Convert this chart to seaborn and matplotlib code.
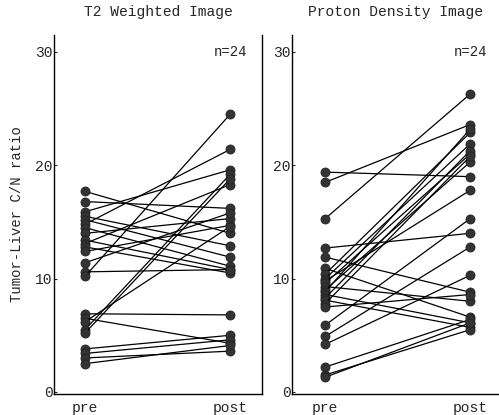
import matplotlib
matplotlib.use("Agg")
import matplotlib.pyplot as plt
import seaborn as sns
import pandas as pd

# ---- data ----
panel_titles = ["T2 Weighted Image", "Proton Density Image"]
time_labels = ["pre", "post"]
n_label = "n=24"
y_label = "Tumor-Liver C/N ratio"
y_ticks = [0, 10, 20, 30]

t2_pre = [17.7, 16.8, 15.9, 15.5, 15.2, 14.8, 14.5, 14.0, 13.4, 13.1, 12.8, 12.4,
          11.4, 10.6, 10.2, 6.9, 6.5, 6.2, 5.5, 5.2, 3.8, 3.4, 3.0, 2.5]
t2_post = [14.0, 16.2, 19.6, 12.9, 11.9, 21.4, 11.1, 15.3, 10.8, 18.3, 10.5, 14.7,
           15.8, 10.8, 24.5, 6.8, 4.3, 14.6, 19.2, 18.8, 5.0, 4.6, 3.6, 4.1]

pd_pre = [19.4, 18.5, 15.3, 12.7, 11.9, 10.9, 10.4, 10.0, 9.8, 9.6, 9.3, 9.0,
          8.85, 8.6, 8.3, 8.1, 7.8, 7.5, 5.9, 4.9, 4.2, 2.2, 1.5, 1.3]
pd_post = [19.0, 23.6, 26.3, 14.0, 8.8, 6.6, 22.9, 21.9, 17.8, 21.0, 8.0, 20.3,
           23.2, 6.1, 21.3, 5.7, 20.8, 8.6, 15.3, 12.8, 10.3, 6.4, 5.5, 6.1]


def to_long(pre, post):
    rows = []
    for i, (a, b) in enumerate(zip(pre, post)):
        rows.append({"subject": i, "time": 0, "value": a})
        rows.append({"subject": i, "time": 1, "value": b})
    return pd.DataFrame(rows)


sns.set_style("white")
plt.rcParams["font.family"] = ["Liberation Mono", "DejaVu Sans Mono"]

W, H = 499, 415
fig = plt.figure(figsize=(W / 100, H / 100), dpi=100)

axes_px = [(54, 35, 262, 394), (292, 35, 500, 394)]
xlims = [(-0.214, 1.22), (-0.229, 1.205)]
datasets = [(t2_pre, t2_post), (pd_pre, pd_post)]

for k, ((x0, y0, x1, y1), (pre, post)) in enumerate(zip(axes_px, datasets)):
    ax = fig.add_axes([x0 / W, (H - y1) / H, (x1 - x0) / W, (y1 - y0) / H])
    df = to_long(pre, post)
    sns.lineplot(data=df, x="time", y="value", units="subject", estimator=None,
                 color="black", linewidth=0.9, marker="o", markersize=6.5,
                 markerfacecolor="#333333", markeredgecolor="#222222",
                 markeredgewidth=0.6, ax=ax, legend=False)
    ax.set_xlim(*xlims[k])
    ax.set_ylim(-0.18, 31.5)
    ax.set_xticks([0, 1])
    ax.set_xticklabels(time_labels, fontsize=10.5)
    ax.set_yticks(y_ticks)
    ax.set_yticklabels([str(v) for v in y_ticks], fontsize=10.5)
    ax.tick_params(axis="x", length=0, pad=5)
    ax.tick_params(axis="y", direction="in", length=2, width=0.8, pad=1, left=True)
    ax.set_xlabel("")
    ax.set_ylabel(y_label if k == 0 else "", fontsize=10, labelpad=8)
    ax.spines["top"].set_visible(False)
    ax.spines["right"].set_visible(k == 0)
    for s in ax.spines.values():
        s.set_color("black")
        s.set_linewidth(1.0)
    ax.set_title(panel_titles[k], fontsize=10.5, pad=14)
    ax.text(1.0, 30.0, n_label, ha="center", va="center", fontsize=10)
    ax.grid(False)

fig.savefig("out.png", dpi=100)
